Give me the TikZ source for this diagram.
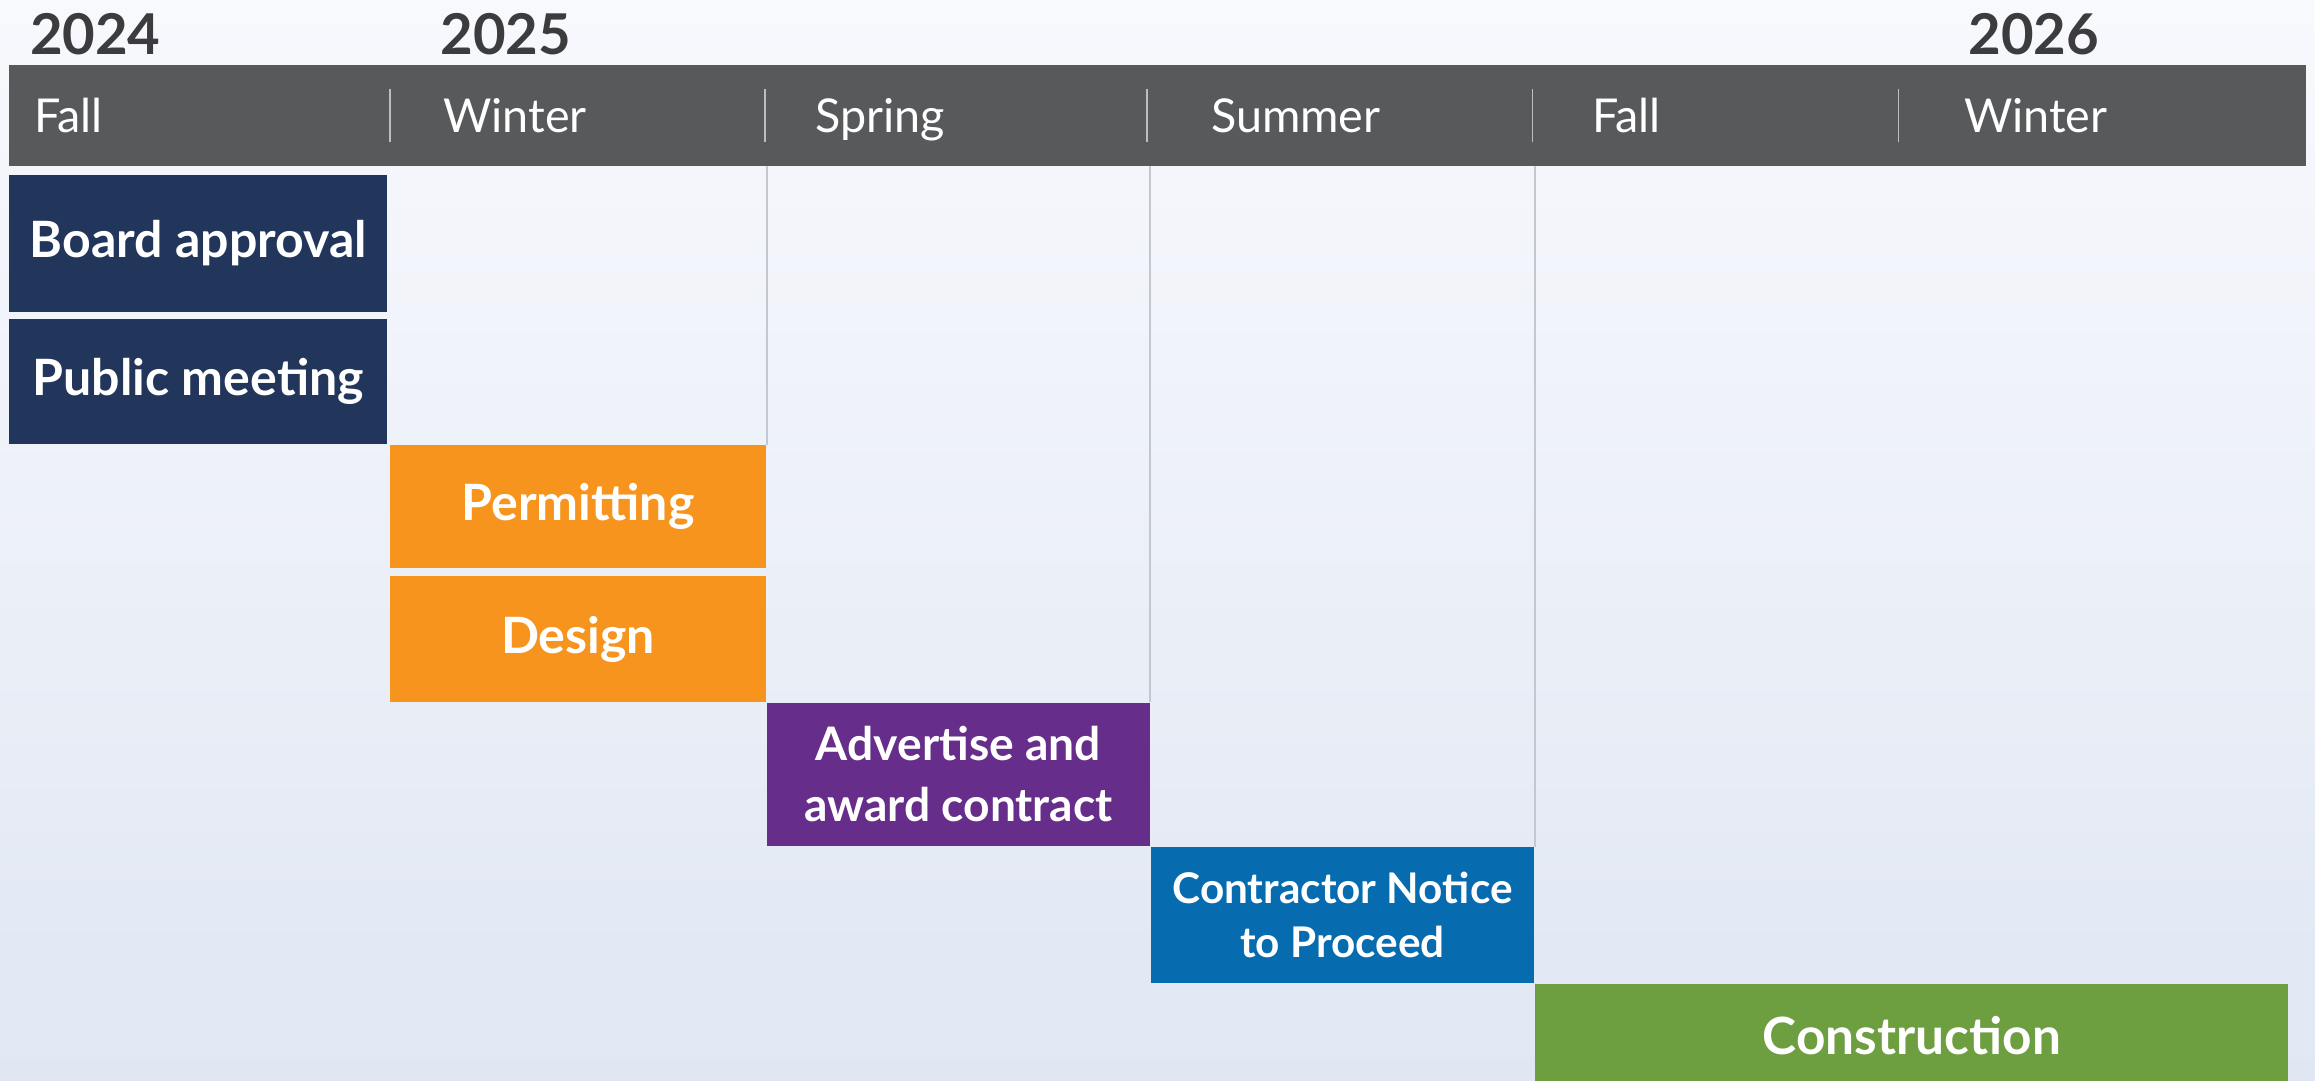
\documentclass[tikz,border=0pt]{standalone}
\usepackage{fontspec}
\setmainfont{Lato}
\usetikzlibrary{positioning}
\definecolor{barGray}{HTML}{58595B}
\definecolor{yearGray}{HTML}{3C3C3E}
\definecolor{navy}{HTML}{22355B}
\definecolor{orangeTask}{HTML}{F7941E}
\definecolor{purpleTask}{HTML}{662D8B}
\definecolor{blueTask}{HTML}{066CAF}
\definecolor{greenTask}{HTML}{6D9E40}
\definecolor{bgTop}{HTML}{F8F9FD}
\definecolor{bgBottom}{HTML}{E0E7F3}
\definecolor{ruleGray}{HTML}{C2C7D0}

\begin{document}
\begin{tikzpicture}[x=0.02cm,y=-0.02cm,
    block/.style={fill=#1, text=white, inner sep=2pt, align=center, font=\bfseries\fontsize{19.3}{23}\selectfont},
    season/.style={text=white, inner sep=0pt, anchor=base west, font=\fontsize{18}{22}\selectfont},
    year/.style={text=yearGray, inner sep=0pt, anchor=base west, font=\bfseries\fontsize{21.7}{25}\selectfont},
    gridrule/.style={draw=ruleGray, line width=0.7pt},
    seasonrule/.style={draw=white!60!barGray, line width=0.6pt}]

    \useasboundingbox (0,0) rectangle (1568,732);
    \shade[top color=bgTop, bottom color=bgBottom] (0,0) rectangle (1568,732);

    % years and seasons
    \node[year] (y2024) at (20,37) {2024};
    \node[year] (y2025) at (298,37) {2025};
    \node[year] (y2026) at (1333,37) {2026};

    \node[fill=barGray, anchor=north west, inner sep=0pt, minimum width=31.12cm, minimum height=1.36cm] (bar) at (6,44) {};
    \foreach \x in {264,518,777,1038,1286}
        \draw[seasonrule] (\x,60) -- (\x,96);
    \foreach \x/\s [count=\i] in {23/Fall,300/Winter,552/Spring,820/Summer,1078/Fall,1330/Winter}
        \node[season] (season\i) at (\x,90) {\s};

    % tasks
    \node[block=navy, anchor=north west, minimum width=5.12cm, minimum height=1.86cm] (board) at (6,118) {Board approval};
    \node[block=navy, minimum width=5.12cm, minimum height=1.70cm, below=0.08cm of board] (public) {Public meeting};
    \node[block=orangeTask, minimum width=5.10cm, minimum height=1.66cm, below right=0cm and 0.02cm of public.south east] (permit) {Permitting};
    \node[block=orangeTask, minimum width=5.10cm, minimum height=1.70cm, below=0.1cm of permit] (design) {Design};
    \node[block=purpleTask, minimum width=5.18cm, minimum height=1.94cm, below right=0cm and 0cm of design.south east,
          font=\bfseries\fontsize{17.8}{23.5}\selectfont] (advert) {Advertise and\\award contract};
    \node[block=blueTask, minimum width=5.20cm, minimum height=1.84cm, below right=0cm and 0cm of advert.south east,
          font=\bfseries\fontsize{16.3}{20.5}\selectfont] (notice) {Contractor Notice\\to Proceed};
    \node[block=greenTask, minimum width=10.2cm, minimum height=1.4cm, below right=0cm and 0cm of notice.south east,
          font=\bfseries\fontsize{19.8}{23}\selectfont] (construct) {Construction};

    \draw[gridrule] (permit.north east |- bar.south) -- (permit.north east);
    \draw[gridrule] (advert.north east |- bar.south) -- (advert.north east);
    \draw[gridrule] (notice.north east |- bar.south) -- (notice.north east);
\end{tikzpicture}
\end{document}
